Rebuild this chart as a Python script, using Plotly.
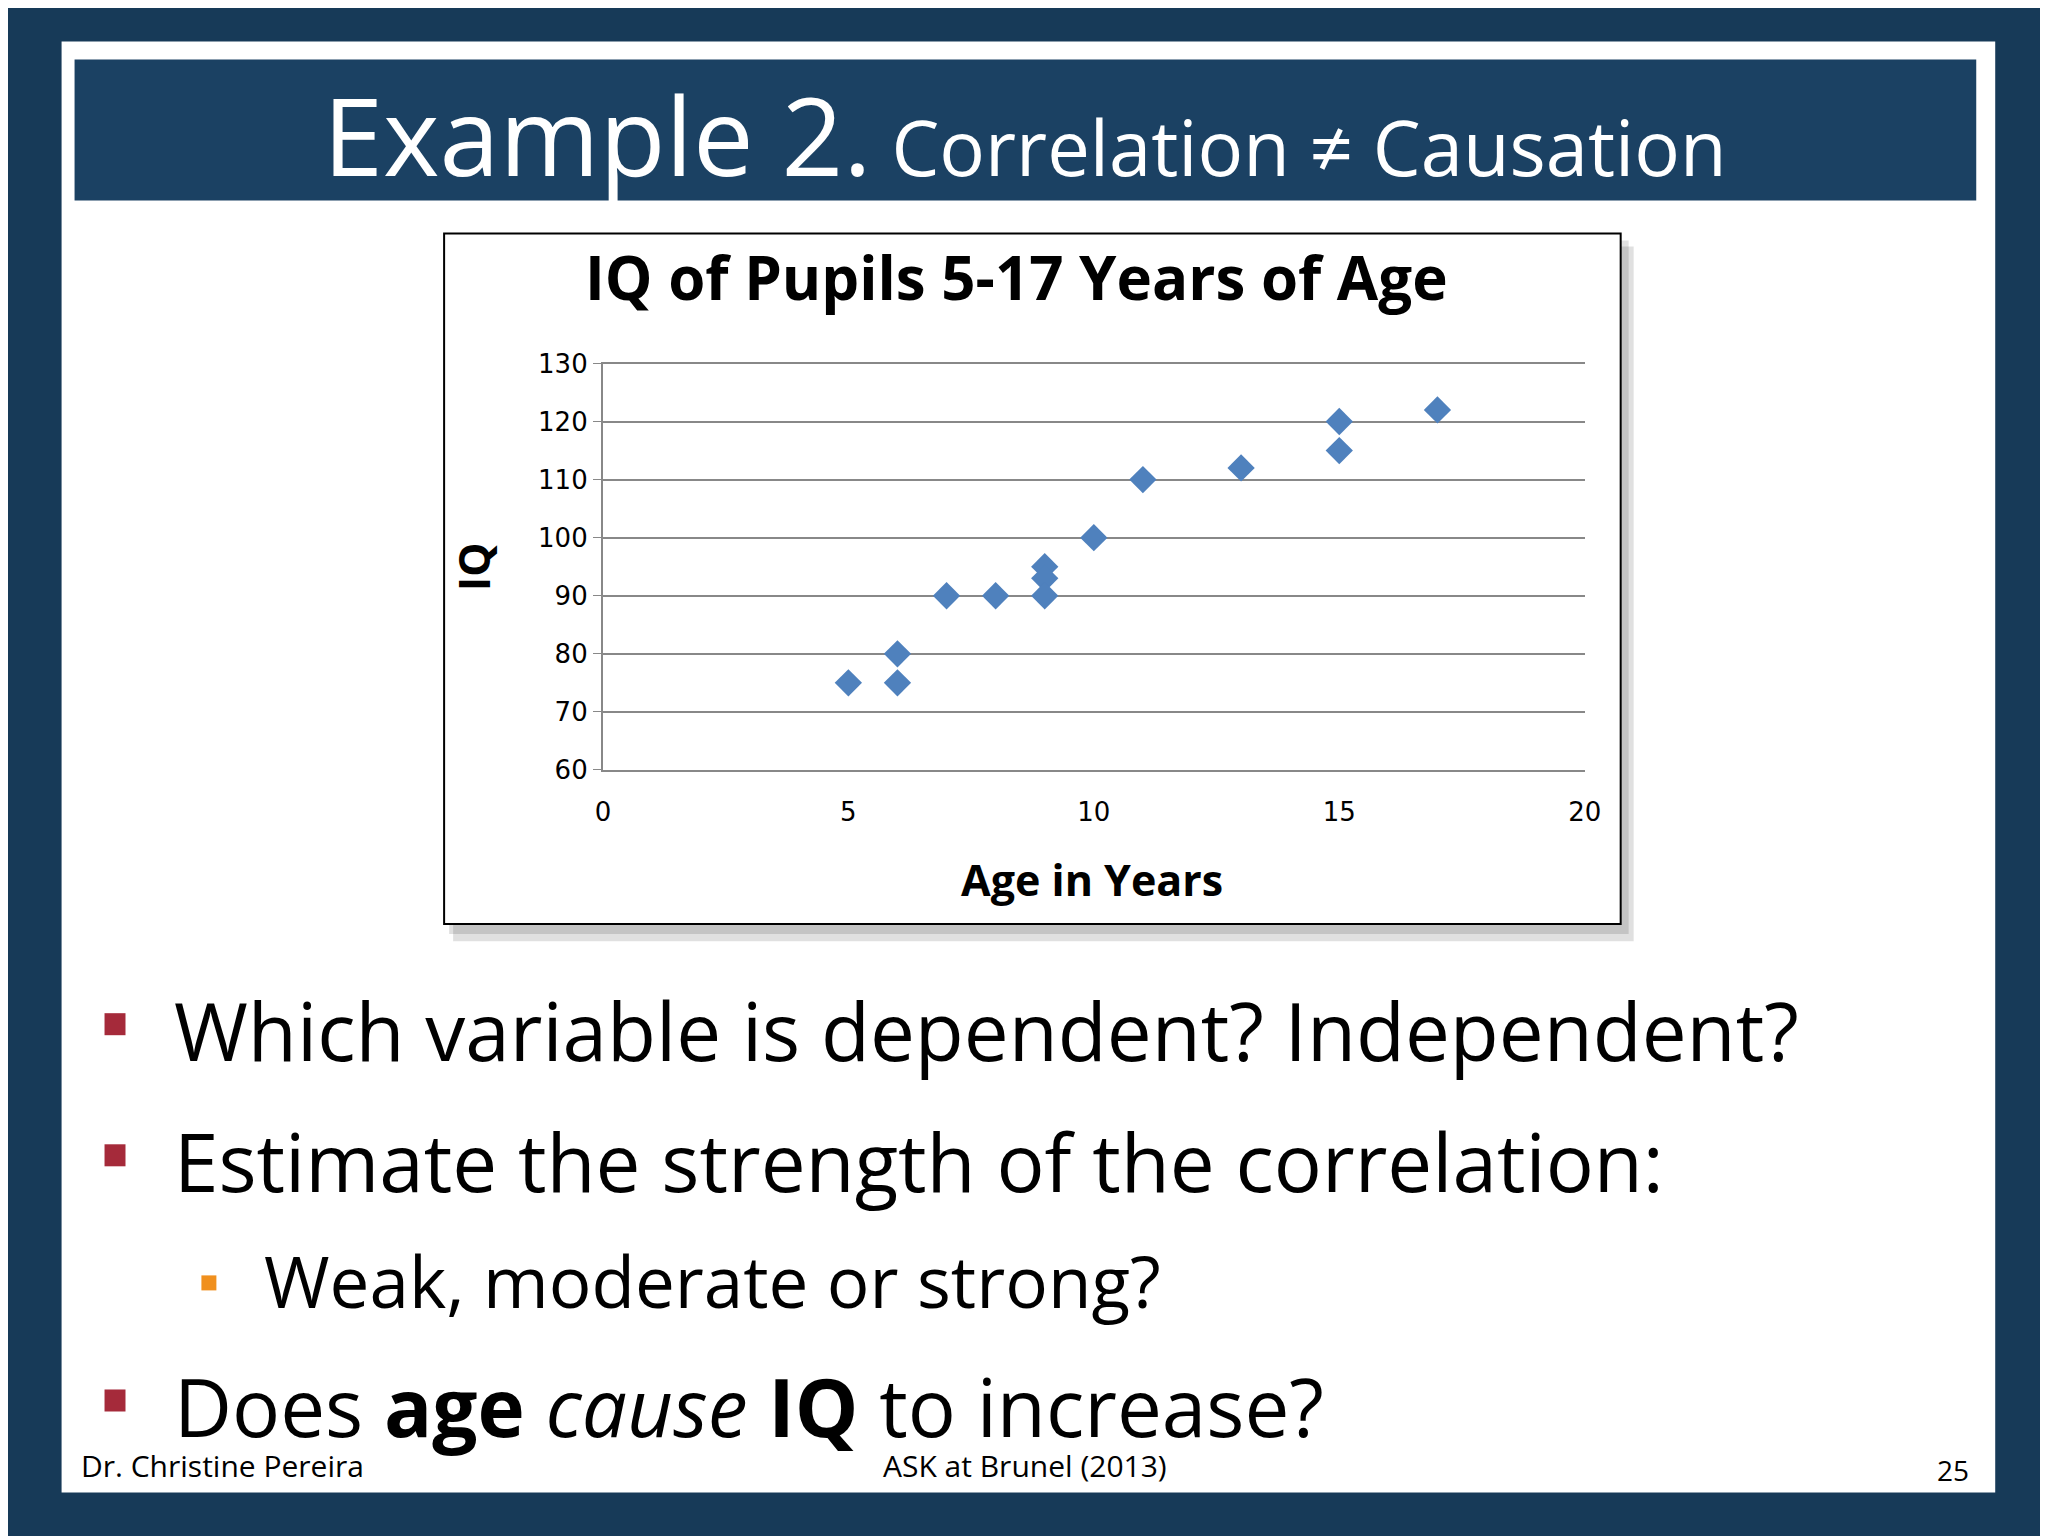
import plotly.graph_objects as go

ages = [5, 6, 6, 7, 8, 9, 9, 9, 10, 11, 13, 15, 15, 17]
iq = [75, 80, 75, 90, 90, 95, 93, 90, 100, 110, 112, 120, 115, 122]
x_ticks = [0, 5, 10, 15, 20]
y_ticks = [60, 70, 80, 90, 100, 110, 120, 130]

W, H = 2048, 1536
S = 1.306
def px(x): return ((x / S - 11) / 0.989 * S) / W
def py(y): return 1 - ((y / S - 17.3) / 0.981 * S) / H

fig = go.Figure()
fig.add_trace(go.Scatter(x=ages, y=iq, mode="markers",
    marker=dict(symbol="diamond", size=21, color="#4f81bd", line=dict(width=0)),
    showlegend=False, cliponaxis=False))

shapes = [
    dict(type="rect", xref="paper", yref="paper", x0=px(60), x1=px(1996), y0=py(1493), y1=py(43),
         fillcolor="white", line=dict(width=0), layer="below"),
    dict(type="rect", xref="paper", yref="paper", x0=px(73), x1=px(1977), y0=py(202), y1=py(61),
         fillcolor="#1b4163", line=dict(width=0), layer="below"),
    dict(type="rect", xref="paper", yref="paper", x0=px(452), x1=px(1634), y0=py(942), y1=py(248),
         fillcolor="rgba(0,0,0,0.12)", line=dict(width=0), layer="below"),
    dict(type="rect", xref="paper", yref="paper", x0=px(448), x1=px(1629), y0=py(935), y1=py(242),
         fillcolor="rgba(0,0,0,0.12)", line=dict(width=0), layer="below"),
    dict(type="rect", xref="paper", yref="paper", x0=px(443), x1=px(1621), y0=py(925), y1=py(235),
         fillcolor="white", line=dict(width=2, color="black"), layer="below"),
]
for yb in [1025, 1156, 1401]:
    shapes.append(dict(type="rect", xref="paper", yref="paper", x0=px(103), x1=px(124), y0=py(yb+11), y1=py(yb-11),
                       fillcolor="#a52a3a", line=dict(width=0)))
shapes.append(dict(type="rect", xref="paper", yref="paper", x0=px(200), x1=px(215), y0=py(1291), y1=py(1276),
                   fillcolor="#f0901e", line=dict(width=0)))

F = "Open Sans"
def A(x, y, text, size, xa="left", **kw):
    d = dict(xref="paper", yref="paper", x=px(x), y=py(y), text=text, showarrow=False,
             font=dict(size=size, color=kw.pop("color", "black"), family=F), xanchor=xa, yanchor="middle")
    d.update(kw)
    return d

ann = [
    A(1025, 136, "<span style='font-size:108px'>Example 2.</span> <span style='font-size:76px'>Correlation ≠ Causation</span>",
      76, "center", color="white"),
    A(1016, 278, "<b>IQ of Pupils 5-17 Years of Age</b>", 60, "center"),
    A(1092, 880, "<b>Age in Years</b>", 43, "center"),
    A(473, 568, "<b>IQ</b>", 43, "center", textangle=-90),
    A(171, 1030, "Which variable is dependent? Independent?", 80),
    A(171, 1161, "Estimate the strength of the correlation:", 80),
    A(261, 1281, "Weak, moderate or strong?", 71),
    A(171, 1406, "Does <b>age</b> <i>cause</i> <b>IQ</b> to increase?", 80),
    A(77, 1466, "Dr. Christine Pereira", 30),
    A(1025, 1466, "ASK at Brunel (2013)", 30, "center"),
    A(1972, 1470, "25", 28, "right"),
]

tf = dict(size=26, color="black", family="DejaVu Sans")
fig.update_layout(
    width=W, height=H, margin=dict(l=0, r=0, t=0, b=0),
    paper_bgcolor="#173a58", plot_bgcolor="white",
    shapes=shapes, annotations=ann,
    xaxis=dict(domain=[px(602), px(1585)], range=[0, 20], tickvals=x_ticks, showgrid=False,
               showline=True, linecolor="#888", linewidth=2, ticks="outside", ticklen=18, tickcolor="white",
               tickfont=tf, zeroline=False),
    yaxis=dict(domain=[py(771), py(363)], range=[60, 130.3], tickvals=y_ticks, showgrid=True, gridcolor="#888", gridwidth=2,
               showline=True, linecolor="#888", linewidth=2, ticks="outside", ticklen=8, tickcolor="#888",
               tickfont=tf, zeroline=False),
)
fig.write_html("out.html")
